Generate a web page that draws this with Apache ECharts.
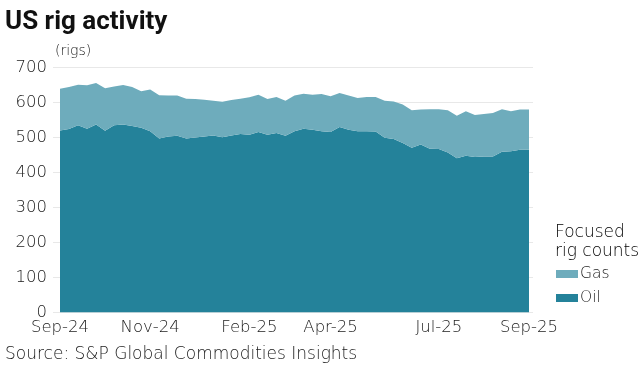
<!DOCTYPE html>
<html>
<head>
<meta charset="utf-8">
<script src="https://cdn.jsdelivr.net/npm/echarts@6/dist/echarts.min.js"></script>
<style>html,body{margin:0;padding:0;background:#fff}#c{width:643px;height:384px}</style>
</head>
<body>
<div id="c"></div>
<script>
// weekly points, Sep-24 .. Sep-25
const weeks = Array.from({length:53}, (_, i) => 'W' + i);
const oil = [520,524,535,525,537,519,535,537,533,528,518,497,503,505,497,500,503,506,501,506,510,508,516,508,513,505,518,525,522,518,516,530,522,518,518,517,499,496,484,471,480,468,467,457,441,448,444,446,446,459,461,465,465];
const gas = [119,120,116,124,119,122,111,113,111,104,119,124,117,115,114,110,105,99,101,101,101,107,106,102,103,100,102,100,100,106,102,97,98,95,98,99,106,107,110,107,100,113,114,121,121,127,120,121,124,122,114,115,115];
const tickIndex = [0,10,21,30,42,52];
const tickLabels = ['Sep-24','Nov-24','Feb-25','Apr-25','Jul-25','Sep-25'];

const TFONT = 'Roboto, "Noto Sans", sans-serif';
const FONT = '"DejaVu Sans", sans-serif';
const chart = echarts.init(document.getElementById('c'), null, {renderer:'canvas'});
chart.setOption({
  animation:false,
  textStyle:{fontFamily:FONT},
  title:[
    {text:'US rig activity', left:5, top:9, padding:0, textStyle:{fontSize:26, fontWeight:'bold', color:'#111', fontFamily:TFONT}},
    {text:'(rigs)', left:55, top:44, padding:0, textStyle:{fontSize:14, fontWeight:300, color:'#1a1a1a', fontFamily:FONT}},
    {text:'Source: S&P Global Commodities Insights', left:5, top:346, padding:0, textStyle:{fontSize:17, fontWeight:300, color:'#1a1a1a', fontFamily:FONT}},
    {text:'Focused\nrig counts', left:555, top:223, padding:0, textStyle:{fontSize:17, lineHeight:19, fontWeight:300, color:'#000', fontFamily:FONT}}
  ],
  legend:{
    orient:'vertical', left:556, top:266, padding:0, itemWidth:22, itemHeight:8, itemGap:8, icon:'rect',
    data:['Gas','Oil'],
    textStyle:{fontSize:15.5, fontWeight:300, color:'#222', fontFamily:FONT, padding:[0,0,0,-3]}
  },
  grid:[
    {left:53, right:110, top:67.5, bottom:71.5},
    {left:60, right:114, top:67.5, bottom:71.5}
  ],
  xAxis:[
    {gridIndex:0, type:'value', min:0, max:1, show:false},
    {gridIndex:1, type:'category', data:weeks, boundaryGap:false,
     axisLine:{show:false}, axisTick:{show:false}, splitLine:{show:false},
     axisLabel:{interval:(i)=>tickIndex.includes(i), formatter:(v,i)=>tickLabels[tickIndex.indexOf(i)]||'',
       fontSize:16.5, fontWeight:300, color:'#1a1a1a', margin:7, fontFamily:FONT}}
  ],
  yAxis:[
    {gridIndex:0, type:'value', min:0, max:700, interval:100,
     axisLine:{show:false}, axisTick:{show:false},
     splitLine:{lineStyle:{color:'#e8e8e8', width:1}},
     axisLabel:{fontSize:16.5, fontWeight:300, color:'#1a1a1a', margin:6, fontFamily:FONT}},
    {gridIndex:1, type:'value', min:0, max:700, interval:100, show:false, splitLine:{show:false}}
  ],
  series:[
    {name:'Oil', type:'line', stack:'rigs', xAxisIndex:1, yAxisIndex:1, data:oil, showSymbol:false, symbol:'none',
     lineStyle:{width:0}, areaStyle:{color:'#24829A', opacity:1}, itemStyle:{color:'#24829A'}},
    {name:'Gas', type:'line', stack:'rigs', xAxisIndex:1, yAxisIndex:1, data:gas, showSymbol:false, symbol:'none',
     lineStyle:{width:0}, areaStyle:{color:'#6EACBC', opacity:1}, itemStyle:{color:'#6EACBC'}}
  ]
});
</script>
</body>
</html>
